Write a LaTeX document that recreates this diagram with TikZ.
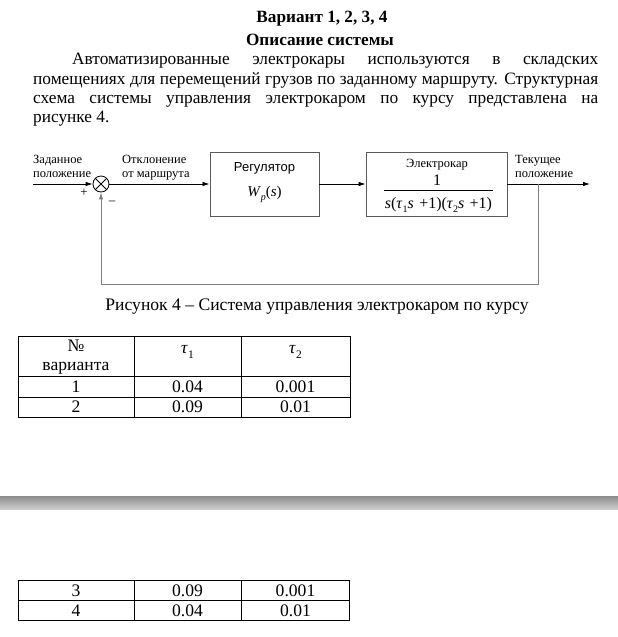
\documentclass[tikz,border=0pt]{standalone}
\usepackage{fontspec}
\setmainfont{Liberation Serif}
\newfontfamily\arialf{Liberation Sans}
\usetikzlibrary{arrows.meta}
\definecolor{boxgray}{HTML}{5A5A5A}
\definecolor{fbgray}{HTML}{7F7F7F}
\newcommand{\sbs}[1]{\raisebox{-0.3em}{\fontsize{10}{10}\selectfont #1}}
\newcommand{\sbt}[1]{\raisebox{-0.3em}{\fontsize{11.5}{12}\selectfont #1}}
\tikzset{
  body/.style={anchor=base west, inner sep=0pt, font=\fontsize{17.3}{20}\selectfont},
  bodyc/.style={anchor=base, inner sep=0pt, font=\fontsize{17.6}{20}\selectfont},
  lbl/.style={anchor=base west, inner sep=0pt, font=\fontsize{12.5}{14}\selectfont},
  blk/.style={draw=boxgray, line width=0.9pt, rectangle, inner sep=0pt},
  tip/.style={-{Latex[length=7pt,width=4.5pt]}},
  sig/.style={line width=0.8pt, tip},
  fb/.style={draw=fbgray, line width=1pt},
  tbl/.style={line width=0.8pt},
}
\begin{document}
\begin{tikzpicture}[x=1pt,y=-1pt]
\useasboundingbox[fill=white] (0,0) rectangle (618,637);
% heading
\node[bodyc, font=\bfseries\fontsize{17.2}{20}\selectfont] (t1) at (322,23) {Вариант 1, 2, 3, 4};
\node[bodyc, font=\bfseries\fontsize{17.2}{20}\selectfont] (t2) at (320,45) {Описание системы};
\node[body] (l1) at (72,64) {\makebox[526pt][s]{Автоматизированные электрокары используются в складских}};
\node[body] (l2) at (33,84) {\makebox[565pt][s]{помещениях для перемещений грузов по заданному маршруту. Структурная}};
\node[body] (l3) at (33,103) {\makebox[565pt][s]{схема системы управления электрокаром по курсу представлена на}};
\node[body] (l4) at (33,122) {рисунке 4.};
% diagram
\node[blk, minimum width=109pt, minimum height=64pt] (reg) at (264.5,184) {};
\node[blk, minimum width=141pt, minimum height=64pt] (car) at (436.5,184) {};
\node[draw=black, line width=0.8pt, circle, minimum size=16pt, inner sep=0pt] (sum) at (101,184) {};
\draw[line width=0.8pt] (sum.north east) -- (sum.south west) (sum.north west) -- (sum.south east);
\coordinate (in) at (33,184);
\coordinate (out) at (590,184);
\coordinate (br) at (538,184);
\coordinate (fbr) at (538,284);
\coordinate (fbl) at (101,284);
\draw[sig] (in) -- (sum.west);
\draw[sig] (sum.east) -- (reg.west);
\draw[sig] (reg.east) -- (car.west);
\draw[sig] (car.east) -- (out);
\draw[fb] (br) -- (fbr) -- (fbl);
\draw[fb, tip] (fbl) -- (sum.south);
\node[lbl] (a1) at (33,163) {Заданное};
\node[lbl] (a2) at (33,177) {положение};
\node[lbl] (b1) at (122,163) {Отклонение};
\node[lbl] (b2) at (122,177) {от маршрута};
\node[lbl] (c1) at (515,163) {Текущее};
\node[lbl] (c2) at (515,177) {положение};
\node[anchor=base, inner sep=0pt, font=\fontsize{13}{15}\selectfont] (plus) at (84,196) {+};
\node[anchor=base, inner sep=0pt, font=\fontsize{13}{15}\selectfont] (minus) at (112,204) {–};
\node[anchor=base, inner sep=0pt, font=\arialf\fontsize{13}{15}\selectfont] (regt) at (264.5,171) {Регулятор};
\node[anchor=base, inner sep=0pt, font=\fontsize{15}{17}\selectfont] (regw) at (264.5,196) {\textit{W}\sbs{\textit{p}}(\textit{s})};
\node[anchor=base, inner sep=0pt, font=\fontsize{12.5}{14}\selectfont] (cart) at (437,167) {Электрокар};
\node[anchor=base, inner sep=0pt, font=\fontsize{16}{17}\selectfont] (num) at (437,185) {1};
\coordinate (fl) at (384,190);
\coordinate (fr) at (493,190);
\draw[line width=0.7pt] (fl) -- (fr);
\node[anchor=base, inner sep=0pt, font=\fontsize{16}{17}\selectfont] (den) at (438.5,208) {\textit{s}(\textit{τ}\sbs{1}\textit{s}\,\,+1)(\textit{τ}\sbs{2}\textit{s}\,\,+1)};
% caption
\node[bodyc] (cap) at (317,310) {Рисунок 4 – Система управления электрокаром по курсу};
% table upper
\draw[tbl] (18,336) rectangle (350,417);
\draw[tbl] (18,376) -- (350,376) (18,397) -- (350,397);
\draw[tbl] (134,336) -- (134,417) (241,336) -- (241,417);
\node[bodyc] (h1) at (76,351) {№};
\node[bodyc] (h2) at (76,370) {варианта};
\node[bodyc] (h3) at (187.5,353) {\textit{τ}\sbt{1}};
\node[bodyc] (h4) at (295.5,353) {\textit{τ}\sbt{2}};
\node[bodyc] (r11) at (76,392) {1};
\node[bodyc] (r12) at (187.5,392) {0.04};
\node[bodyc] (r13) at (295.5,392) {0.001};
\node[bodyc] (r21) at (76,412) {2};
\node[bodyc] (r22) at (187.5,412) {0.09};
\node[bodyc] (r23) at (295.5,412) {0.01};
% page break band
\shade[top color=black!45, middle color=black!5, bottom color=black!20] (0,496) rectangle (618,509);
% table lower
\draw[tbl] (18,580) rectangle (349,620);
\draw[tbl] (18,600) -- (349,600);
\draw[tbl] (134,580) -- (134,620) (241,580) -- (241,620);
\node[bodyc] (r31) at (76,596) {3};
\node[bodyc] (r32) at (187.5,596) {0.09};
\node[bodyc] (r33) at (295.5,596) {0.001};
\node[bodyc] (r41) at (76,616) {4};
\node[bodyc] (r42) at (187.5,616) {0.04};
\node[bodyc] (r43) at (295.5,616) {0.01};
\end{tikzpicture}
\end{document}
